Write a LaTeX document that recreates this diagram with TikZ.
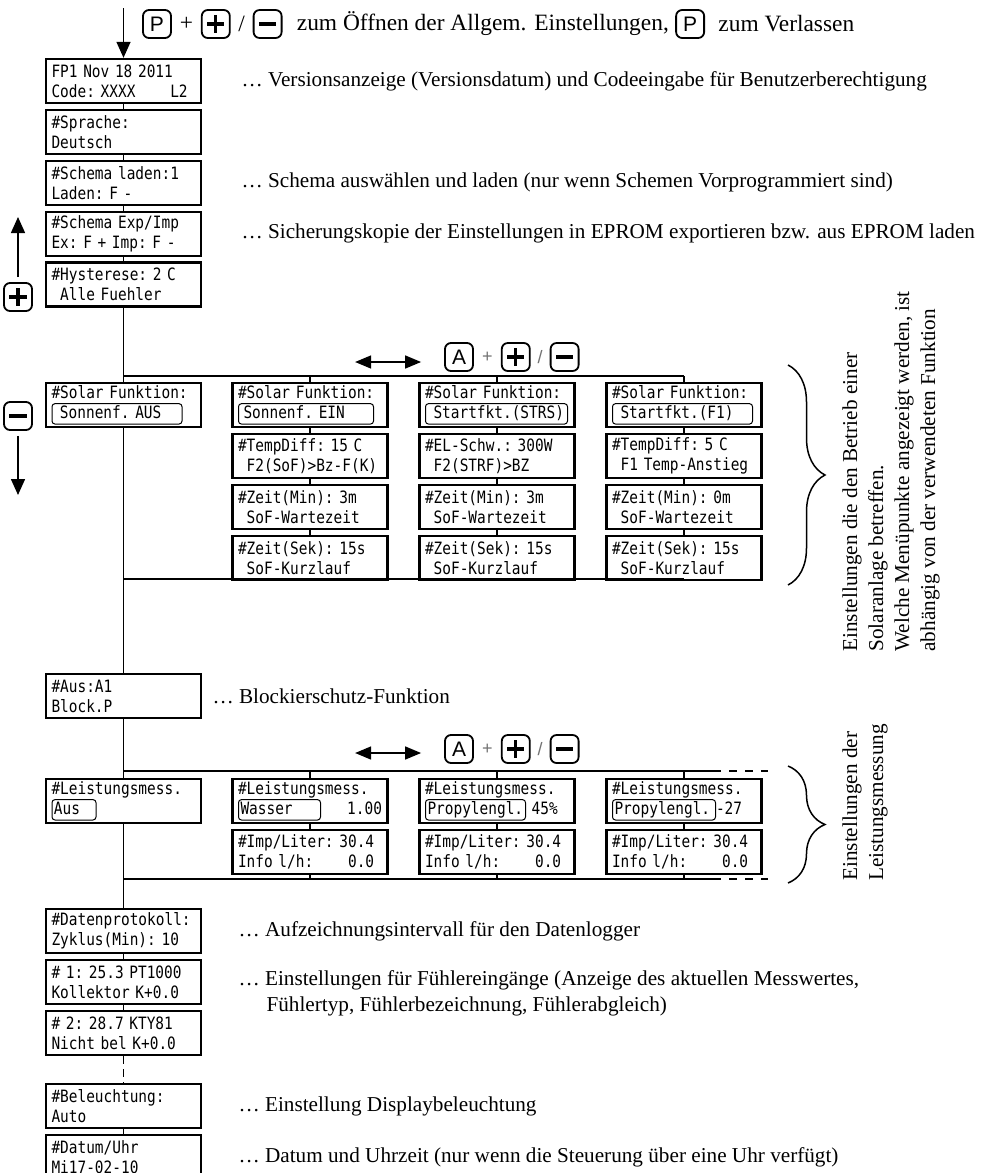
\documentclass[tikz,border=0pt]{standalone}
\usepackage{fontspec}
\setmainfont{Liberation Serif}
\setsansfont{Liberation Sans}
\newfontfamily\lcdfont[FakeStretch=0.85]{DejaVu Sans Mono}
\usetikzlibrary{positioning, arrows.meta, calc, decorations.pathreplacing}

% LCD font with one full cell per space
\newcommand\lcdsize{\fontsize{8.5}{10}\lcdfont\frenchspacing\spaceskip=4.35pt\relax\xspaceskip=4.35pt\relax}
% blank LCD cell that is not dropped at the start of a line
\newcommand\blank{\hphantom{0}}
% selection frame on the display
\newcommand\sel[2]{\tikz[baseline]\node[draw, line width=0.5pt, rounded corners=1.5pt, anchor=base, inner xsep=1pt, inner ysep=1.2pt, text height=6.2pt, text depth=1.6pt, minimum width=0pt, minimum height=0pt, text width=#1, align=left, fill=none]{#2};}

\begin{document}
\begin{tikzpicture}[
        x=0.5pt, y=-0.5pt,
        % Global Styles
        lcd/.style={draw, line width=1.2pt, minimum height=22pt, text width=72pt, inner xsep=2.75pt, inner ysep=0pt, align=left, font=\lcdsize},
        key/.style={draw, line width=0.9pt, rounded corners=3pt, minimum size=14pt, inner sep=0pt, font=\fontsize{10.5}{12}\sffamily},
        keyplus/.style={key, path picture={\draw[line width=1.6pt] ([xshift=-4.3pt]path picture bounding box.center) -- ([xshift=4.3pt]path picture bounding box.center) ([yshift=-4.3pt]path picture bounding box.center) -- ([yshift=4.3pt]path picture bounding box.center);}},
        keyminus/.style={key, path picture={\draw[line width=1.6pt] ([xshift=-4.3pt]path picture bounding box.center) -- ([xshift=4.3pt]path picture bounding box.center);}},
        note/.style={inner sep=0pt, font=\fontsize{10.6}{13}\selectfont},
        headline/.style={inner sep=0pt, font=\fontsize{11.7}{14}\selectfont},
        op/.style={inner sep=0pt, font=\fontsize{9}{10}\sffamily, text=black!55},
        link/.style={line width=0.75pt},
        arrow/.style={line width=0.75pt, -{Triangle[length=8pt, width=7pt]}},
        dblarrow/.style={line width=0.75pt, {Triangle[length=8pt, width=6.5pt]}-{Triangle[length=8pt, width=6.5pt]}},
        curly/.style={decorate, decoration={brace, amplitude=18.5pt}, line width=0.75pt}
    ]
    \path[use as bounding box, fill=white] (0,0) rectangle (987,1173);

    % --- Entry and key row ---
    \coordinate (start) at (123.5,8);
    \node[key] (keyP) at (157,24) {P};
    \node[keyplus, right=14.5pt of keyP] (keyPlus) {};
    \node[keyminus, right=11pt of keyPlus] (keyMinus) {};
    \node[headline] (opPlus) at ($(keyP.east)!0.5!(keyPlus.west)$) {+};
    \node[headline] (opSlash) at ($(keyPlus.east)!0.5!(keyMinus.west)$) {/};
    \node[headline, right=7pt of keyMinus] (openTxt) {zum Öffnen der Allgem. Einstellungen,};
    \node[key, right=3pt of openTxt] (keyP2) {P};
    \node[headline, right=6.5pt of keyP2] (leaveTxt) {zum Verlassen};

    % --- Main column ---
    \node[lcd] (fp) at (123.5,81) {FP1 Nov 18 2011\\Code: XXXX\blank\blank\blank\blank L2};
    \node[lcd, below=2.25pt of fp] (lang) {\#Sprache:\\Deutsch};
    \node[lcd, below=2.25pt of lang] (schema) {\#Schema laden:1\\Laden: F -};
    \node[lcd, below=2.25pt of schema] (expimp) {\#Schema Exp/Imp\\Ex: F + Imp: F -};
    \node[lcd, below=2.25pt of expimp] (hyst) {\#Hysterese: 2 C\\\blank Alle Fuehler};

    \node[note, right=19.5pt of fp] (fpNote) {… Versionsanzeige (Versionsdatum) und Codeeingabe für Benutzerberechtigung};
    \node[note, right=19.5pt of schema] (schemaNote) {… Schema auswählen und laden (nur wenn Schemen Vorprogrammiert sind)};
    \node[note, right=19.5pt of expimp] (expimpNote) {… Sicherungskopie der Einstellungen in EPROM exportieren bzw. aus EPROM laden};

    % --- Up / down keys ---
    \node[keyplus] (keyUp) at (18,297) {};
    \node[keyminus] (keyDown) at (18,416) {};
    \coordinate (upEnd) at (18,217);
    \coordinate (downEnd) at (18,495);

    % --- Solar function block ---
    \coordinate (solTop) at (123.5,376);
    \coordinate (solBot) at (123.5,579);
    \node[lcd] (sol0) at (123.5,405) {\#Solar Funktion:\\\sel{63pt}{\hspace*{3pt}Sonnenf. AUS}};

    \node[lcd] (solA1) at (310,405) {\#Solar Funktion:\\\sel{65.5pt}{\hspace*{1.5pt}Sonnenf. EIN}};
    \node[lcd, below=2.25pt of solA1] (solA2) {\#TempDiff: 15 C\\\blank F2(SoF)>Bz-F(K)};
    \node[lcd, below=2.25pt of solA2] (solA3) {\#Zeit(Min): 3m\\\blank SoF-Wartezeit};
    \node[lcd, below=2.25pt of solA3] (solA4) {\#Zeit(Sek): 15s\\\blank SoF-Kurzlauf};

    \node[lcd] (solB1) at (497,405) {\#Solar Funktion:\\\sel{69pt}{\hspace*{3pt}Startfkt.(STRS)}};
    \node[lcd, below=2.25pt of solB1] (solB2) {\#EL-Schw.: 300W\\\blank F2(STRF)>BZ};
    \node[lcd, below=2.25pt of solB2] (solB3) {\#Zeit(Min): 3m\\\blank SoF-Wartezeit};
    \node[lcd, below=2.25pt of solB3] (solB4) {\#Zeit(Sek): 15s\\\blank SoF-Kurzlauf};

    \node[lcd] (solC1) at (684,405) {\#Solar Funktion:\\\sel{68pt}{\hspace*{3pt}Startfkt.(F1)}};
    \node[lcd, below=2.25pt of solC1] (solC2) {\#TempDiff: 5 C\\\blank F1 Temp-Anstieg};
    \node[lcd, below=2.25pt of solC2] (solC3) {\#Zeit(Min): 0m\\\blank SoF-Wartezeit};
    \node[lcd, below=2.25pt of solC3] (solC4) {\#Zeit(Sek): 15s\\\blank SoF-Kurzlauf};

    \node[key] (keyA) at (459,357) {A};
    \node[keyplus, right=13.5pt of keyA] (keyAPlus) {};
    \node[keyminus, right=9.5pt of keyAPlus] (keyAMinus) {};
    \node[op] (opAPlus) at ($(keyA.east)!0.5!(keyAPlus.west)$) {+};
    \node[op] (opASlash) at ($(keyAPlus.east)!0.5!(keyAMinus.west)$) {/};

    \coordinate (solBraceTop) at (788,365);
    \coordinate (solBraceBot) at (788,585);
    \node[note, rotate=90, anchor=north west, align=left] (solNote) at (842,652) {Einstellungen die den Betrieb einer\\Solaranlage betreffen.\\Welche Menüpunkte angezeigt werden, ist\\abhängig von der verwendeten Funktion};

    % --- Anti-blocking ---
    \node[lcd] (block) at (123.5,696) {\#Aus:A1\\Block.P};
    \node[note, right=5pt of block] (blockNote) {… Blockierschutz-Funktion};

    % --- Energy metering block ---
    \coordinate (lmTop) at (123.5,771);
    \coordinate (lmBot) at (123.5,879);
    \coordinate (lmTopEnd) at (713,771);
    \coordinate (lmBotEnd) at (713,879);
    \coordinate (lmTopDash) at (768,771);
    \coordinate (lmBotDash) at (768,879);
    \node[lcd] (lm0) at (123.5,801) {\#Leistungsmess.\\\sel{20pt}{Aus}};

    \node[lcd] (lmA1) at (310,801) {\#Leistungsmess.\\\sel{39pt}{Wasser}\hfill 1.00};
    \node[lcd, below=2.25pt of lmA1] (lmA2) {\#Imp/Liter: 30.4\\Info l/h:\blank\blank\blank\blank 0.0};
    \node[lcd] (lmB1) at (497,801) {\#Leistungsmess.\\\sel{48pt}{Propylengl.} 45\%};
    \node[lcd, below=2.25pt of lmB1] (lmB2) {\#Imp/Liter: 30.4\\Info l/h:\blank\blank\blank\blank 0.0};
    \node[lcd] (lmC1) at (684,801) {\#Leistungsmess.\\\sel{49.5pt}{Propylengl.}-27};
    \node[lcd, below=2.25pt of lmC1] (lmC2) {\#Imp/Liter: 30.4\\Info l/h:\blank\blank\blank\blank 0.0};

    \node[key] (keyB) at (459,749) {A};
    \node[keyplus, right=13.5pt of keyB] (keyBPlus) {};
    \node[keyminus, right=9.5pt of keyBPlus] (keyBMinus) {};
    \node[op] (opBPlus) at ($(keyB.east)!0.5!(keyBPlus.west)$) {+};
    \node[op] (opBSlash) at ($(keyBPlus.east)!0.5!(keyBMinus.west)$) {/};

    \coordinate (lmBraceTop) at (788,766);
    \coordinate (lmBraceBot) at (788,883);
    \node[note, rotate=90, anchor=north west, align=left] (lmNote) at (842,881) {Einstellungen der\\Leistungsmessung};

    % --- Lower column ---
    \node[lcd] (log) at (123.5,931) {\#Datenprotokoll:\\Zyklus(Min): 10};
    \node[lcd, below=2.25pt of log] (sens1) {\# 1: 25.3 PT1000\\Kollektor K+0.0};
    \node[lcd, below=2.25pt of sens1] (sens2) {\# 2: 28.7 KTY81\\Nicht bel K+0.0};
    \node[lcd] (light) at (123.5,1106) {\#Beleuchtung:\\Auto};
    \node[lcd, below=2.25pt of light] (clock) {\#Datum/Uhr\\Mi17-02-10};

    \node[note, right=18pt of log] (logNote) {… Aufzeichnungsintervall für den Datenlogger};
    \node[note, align=left, anchor=north west] (sensNote) at ($(sens1.east)+(36,-12)$) {… Einstellungen für Fühlereingänge (Anzeige des aktuellen Messwertes,\\\hspace*{14pt}Fühlertyp, Fühlerbezeichnung, Fühlerabgleich)};
    \node[note, right=18pt of light] (lightNote) {… Einstellung Displaybeleuchtung};
    \node[note, right=18pt of clock] (clockNote) {… Datum und Uhrzeit (nur wenn die Steuerung über eine Uhr verfügt)};

    % --- CONNECTIONS ---

    % Entry and scrolling
    \draw[arrow] (start) -- (fp.north);
    \draw[arrow] ([yshift=2.5pt]keyUp.north) -- (upEnd);
    \draw[arrow] ([yshift=-2.5pt]keyDown.south) -- (downEnd);
    \draw[dblarrow] ($(keyA.west)+(-89,5)$) -- ($(keyA.west)+(-23,5)$);
    \draw[dblarrow] ($(keyB.west)+(-89,4)$) -- ($(keyB.west)+(-23,4)$);

    % Main trunk
    \draw[link] (fp) -- (lang);
    \draw[link] (lang) -- (schema);
    \draw[link] (schema) -- (expimp);
    \draw[link] (expimp) -- (hyst);
    \draw[link] (hyst) -- (sol0);
    \draw[link] (sol0) -- (block);
    \draw[link] (block) -- (lm0);
    \draw[link] (lm0) -- (log);
    \draw[link] (log) -- (sens1);
    \draw[link] (sens1) -- (sens2);
    \draw[link, dash pattern=on 4pt off 2.5pt] (sens2) -- (light);
    \draw[link] (light) -- (clock);

    % Solar branches
    \draw[link] (solTop) -- (solTop -| solC1.north);
    \draw[link] (solBot) -- (solBot -| solC4.south);
    \draw[link] (solTop -| solA1.north) -- (solA1);
    \draw[link] (solA1) -- (solA2);
    \draw[link] (solA2) -- (solA3);
    \draw[link] (solA3) -- (solA4);
    \draw[link] (solA4) -- (solA4.south |- solBot);
    \draw[link] (solTop -| solB1.north) -- (solB1);
    \draw[link] (solB1) -- (solB2);
    \draw[link] (solB2) -- (solB3);
    \draw[link] (solB3) -- (solB4);
    \draw[link] (solB4) -- (solB4.south |- solBot);
    \draw[link] (solTop -| solC1.north) -- (solC1);
    \draw[link] (solC1) -- (solC2);
    \draw[link] (solC2) -- (solC3);
    \draw[link] (solC3) -- (solC4);
    \draw[link] (solC4) -- (solC4.south |- solBot);

    % Metering branches
    \draw[link] (lmTop) -- (lmTopEnd);
    \draw[link] (lmBot) -- (lmBotEnd);
    \draw[link, dash pattern=on 4pt off 4pt] (lmTopEnd) -- (lmTopDash);
    \draw[link, dash pattern=on 4pt off 4pt] (lmBotEnd) -- (lmBotDash);
    \draw[link] (lmTop -| lmA1.north) -- (lmA1);
    \draw[link] (lmA1) -- (lmA2);
    \draw[link] (lmA2) -- (lmA2.south |- lmBot);
    \draw[link] (lmTop -| lmB1.north) -- (lmB1);
    \draw[link] (lmB1) -- (lmB2);
    \draw[link] (lmB2) -- (lmB2.south |- lmBot);
    \draw[link] (lmTop -| lmC1.north) -- (lmC1);
    \draw[link] (lmC1) -- (lmC2);
    \draw[link] (lmC2) -- (lmC2.south |- lmBot);

    % Braces
    \draw[curly] (solBraceTop) -- (solBraceBot);
    \draw[curly] (lmBraceTop) -- (lmBraceBot);

\end{tikzpicture}
\end{document}
